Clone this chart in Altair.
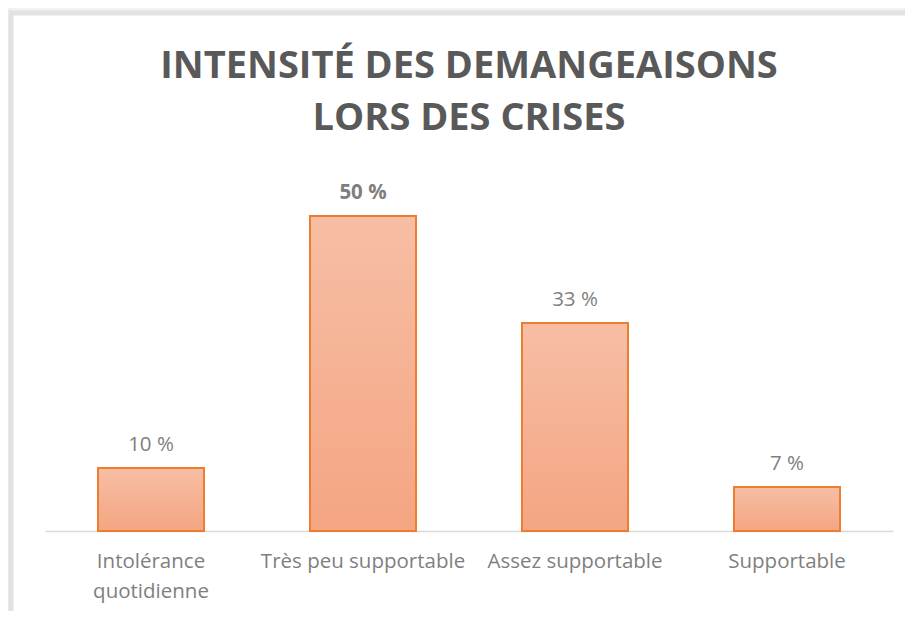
import altair as alt
import pandas as pd

categories = ["Intolérance quotidienne", "Très peu supportable", "Assez supportable", "Supportable"]
values = [10, 50, 33, 7]
labels = ["10 %", "50 %", "33 %", "7 %"]
bold = [False, True, False, False]

df = pd.DataFrame({"cat": categories, "val": values, "lab": labels, "bold": bold})

FONT = "Open Sans"
GRAY = "#7f7f7f"

base = alt.Chart(df).encode(
    x=alt.X(
        "cat:N",
        sort=categories,
        title=None,
        scale=alt.Scale(paddingInner=0.5, paddingOuter=0.25),
        axis=alt.Axis(
            labelAngle=0,
            ticks=False,
            domainColor="#d9d9d9",
            domainWidth=1.5,
            labelFont=FONT,
            labelFontSize=20.5,
            labelColor=GRAY,
            labelPadding=20,
            labelLineHeight=30,
            labelLimit=300,
            labelExpr="datum.label == 'Intolérance quotidienne' ? ['Intolérance', 'quotidienne'] : datum.label",
        ),
    ),
    y=alt.Y("val:Q", scale=alt.Scale(domain=[0, 60]), axis=None),
)

bars = base.mark_bar(
    color=alt.Gradient(
        gradient="linear",
        x1=0, y1=0, x2=0, y2=1,
        stops=[alt.GradientStop(color="#f7bea4", offset=0), alt.GradientStop(color="#f4a582", offset=1)],
    ),
    stroke="#ED7D31",
    strokeWidth=2,
)

text_normal = base.transform_filter("!datum.bold").mark_text(
    baseline="bottom", dy=-13, font=FONT, fontSize=20.5, color=GRAY
).encode(text="lab:N")

text_bold = base.transform_filter("datum.bold").mark_text(
    baseline="bottom", dy=-13, font=FONT, fontSize=20.5, color=GRAY, fontWeight="bold"
).encode(text="lab:N")

frame_df = pd.DataFrame({"k": [0]})
frame_outer = alt.Chart(frame_df).mark_rect(fill=None, stroke="#f1f1f1", strokeWidth=10).encode(
    x=alt.value(-37), y=alt.value(-143), x2=alt.value(1000), y2=alt.value(800)
)
frame_inner = alt.Chart(frame_df).mark_rect(fill=None, stroke="#e2e2e2", strokeWidth=5).encode(
    x=alt.value(-34), y=alt.value(-140), x2=alt.value(1000), y2=alt.value(800)
)

chart = (
    (frame_outer + frame_inner + bars + text_normal + text_bold)
    .properties(
        width=848,
        height=378,
        autosize=alt.AutoSizeParams(type="none"),
        padding={"left": 37, "top": 145, "right": 12, "bottom": 80},
        title=alt.TitleParams(
            text=["INTENSITÉ DES DEMANGEAISONS", "LORS DES CRISES"],
            font=FONT,
            fontSize=38,
            fontWeight="bold",
            color="#595959",
            anchor="middle",
            frame="group",
            lineHeight=52,
            offset=18,
            dy=151,
        ),
    )
    .configure_view(stroke=None)
)

chart.save("out.html", embed_options={"renderer": "svg", "actions": False})
